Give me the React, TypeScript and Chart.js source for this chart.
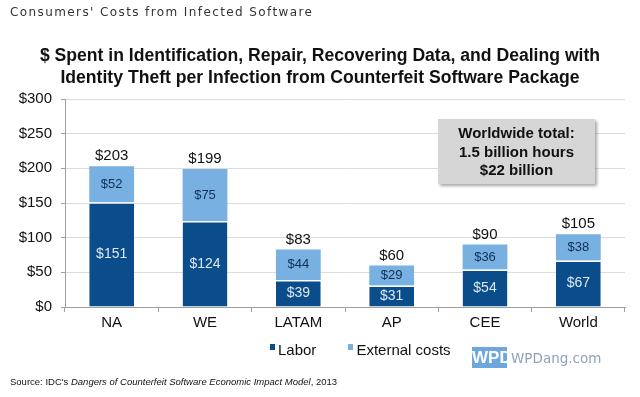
import React, { useEffect, useRef } from "react";
import { Chart, registerables } from "chart.js";

Chart.register(...registerables);

const categories = ["NA", "WE", "LATAM", "AP", "CEE", "World"];
const laborValues = [151, 124, 39, 31, 54, 67];
const externalValues = [52, 75, 44, 29, 36, 38];
const yTicks = [0, 50, 100, 150, 200, 250, 300];
const seriesNames = ["Labor", "External costs"];

const LABOR = "#0b4c8a";
const EXTERNAL = "#79b0e2";
const FONT = "'Liberation Sans', Arial, sans-serif";

const labelsPlugin = {
  id: "barLabels",
  afterDatasetsDraw(chart: any) {
    const ctx = chart.ctx;
    const m0 = chart.getDatasetMeta(0);
    const m1 = chart.getDatasetMeta(1);
    ctx.save();
    ctx.textAlign = "center";
    ctx.textBaseline = "middle";
    m0.data.forEach((bar: any, i: number) => {
      const p0 = bar.getProps(["x", "y", "base"], true);
      ctx.fillStyle = "#dbe8f5";
      ctx.font = `14px ${FONT}`;
      ctx.fillText(`$${laborValues[i]}`, p0.x, (p0.y + p0.base) / 2);
      const p1 = m1.data[i].getProps(["x", "y", "base"], true);
      ctx.fillStyle = "#0c2f55";
      ctx.font = `13px ${FONT}`;
      ctx.fillText(`$${externalValues[i]}`, p1.x, (p1.y + p1.base) / 2);
      ctx.fillStyle = "#111";
      ctx.font = `15px ${FONT}`;
      ctx.fillText(`$${laborValues[i] + externalValues[i]}`, p1.x, p1.y - 10);
    });
    ctx.restore();
  },
};

export default function App() {
  const ref = useRef<HTMLCanvasElement>(null);
  useEffect(() => {
    document.body.style.margin = "0";
    const chart = new Chart(ref.current!, {
      type: "bar",
      data: {
        labels: categories,
        datasets: [
          {
            label: seriesNames[0],
            data: laborValues,
            backgroundColor: LABOR,
            borderColor: "#ffffff",
            borderWidth: { top: 1.5, left: 0, right: 0, bottom: 0 },
            borderSkipped: false,
            barPercentage: 0.48,
            categoryPercentage: 1,
          },
          {
            label: seriesNames[1],
            data: externalValues,
            backgroundColor: EXTERNAL,
            borderWidth: 0,
            barPercentage: 0.48,
            categoryPercentage: 1,
          },
        ],
      },
      options: {
        animation: false,
        responsive: false,
        layout: { padding: { left: 0, right: 15, top: 99, bottom: 58 } },
        plugins: { legend: { display: false }, tooltip: { enabled: false }, title: { display: false } },
        scales: {
          x: {
            stacked: true,
            offset: true,
            grid: { offset: true, drawOnChartArea: false, drawTicks: true, tickLength: 5, color: "#a0a0a0" },
            border: { color: "#a0a0a0" },
            ticks: { color: "#111", font: { family: FONT, size: 15 }, padding: 2 },
            afterFit: (s: any) => { s.height = 32; },
          },
          y: {
            stacked: true,
            min: 0,
            max: 300,
            afterBuildTicks: (s: any) => { s.ticks = yTicks.map((v) => ({ value: v })); },
            grid: { color: "#dcdcdc", drawTicks: true, tickLength: 4, tickColor: "#a0a0a0" },
            border: { color: "#a0a0a0" },
            ticks: { color: "#111", font: { family: FONT, size: 15 }, padding: 9, callback: (v: any) => `$${v}` },
            afterFit: (s: any) => { s.width = 65; },
          },
        },
      },
      plugins: [labelsPlugin],
    });
    return () => chart.destroy();
  }, []);

  return (
    <div style={{ position: "fixed", left: 0, top: 0, width: 640, height: 397, background: "#fff", overflow: "hidden" }}>
      <canvas ref={ref} width={640} height={397} style={{ position: "absolute", left: 0, top: 0 }} />
      <div style={{ position: "absolute", left: 10, top: 5, fontFamily: "'DejaVu Sans', Verdana, sans-serif", fontSize: 12, letterSpacing: 1.4, color: "#333", whiteSpace: "nowrap" }}>
        Consumers' Costs from Infected Software
      </div>
      <div style={{ position: "absolute", left: 0, width: 640, top: 44, textAlign: "center", fontFamily: FONT, fontWeight: "bold", fontSize: 17.6, lineHeight: "22px", color: "#111" }}>
        $ Spent in Identification, Repair, Recovering Data, and Dealing with
        <br />
        Identity Theft per Infection from Counterfeit Software Package
      </div>
      <div style={{ position: "absolute", left: 438, top: 119, width: 157, height: 65, background: "#d6d6d6", boxShadow: "2px 2px 3px rgba(0,0,0,0.35)", textAlign: "center", fontFamily: FONT, fontWeight: "bold", fontSize: 15, lineHeight: "18.5px", color: "#111", paddingTop: 5, boxSizing: "border-box" }}>
        Worldwide total:
        <br />1.5 billion hours
        <br />$22 billion
      </div>
      <div style={{ position: "absolute", left: 270, top: 341, fontFamily: FONT, fontSize: 15, color: "#111", whiteSpace: "nowrap", display: "flex", alignItems: "center" }}>
        <span style={{ display: "inline-block", width: 5, height: 6, background: LABOR, marginRight: 3, position: "relative", top: -3 }} />
        <span>{seriesNames[0]}</span>
        <span style={{ display: "inline-block", width: 5, height: 6, background: EXTERNAL, marginLeft: 32, marginRight: 3, position: "relative", top: -3 }} />
        <span>{seriesNames[1]}</span>
      </div>
      <div style={{ position: "absolute", left: 472, top: 347, width: 35, height: 21, background: "#6ea7dc", color: "#fff", fontFamily: FONT, fontWeight: "bold", fontSize: 17, lineHeight: "21px", textAlign: "center" }}>
        WPD
      </div>
      <div style={{ position: "absolute", left: 511, top: 350, fontFamily: "'DejaVu Sans', sans-serif", fontSize: 13.5, color: "#8ea3b8", whiteSpace: "nowrap" }}>
        WPDang.com
      </div>
      <div style={{ position: "absolute", left: 10, top: 376, fontFamily: FONT, fontSize: 9.5, color: "#111", whiteSpace: "nowrap" }}>
        Source: IDC's <i>Dangers of Counterfeit Software Economic Impact Model</i>, 2013
      </div>
    </div>
  );
}
